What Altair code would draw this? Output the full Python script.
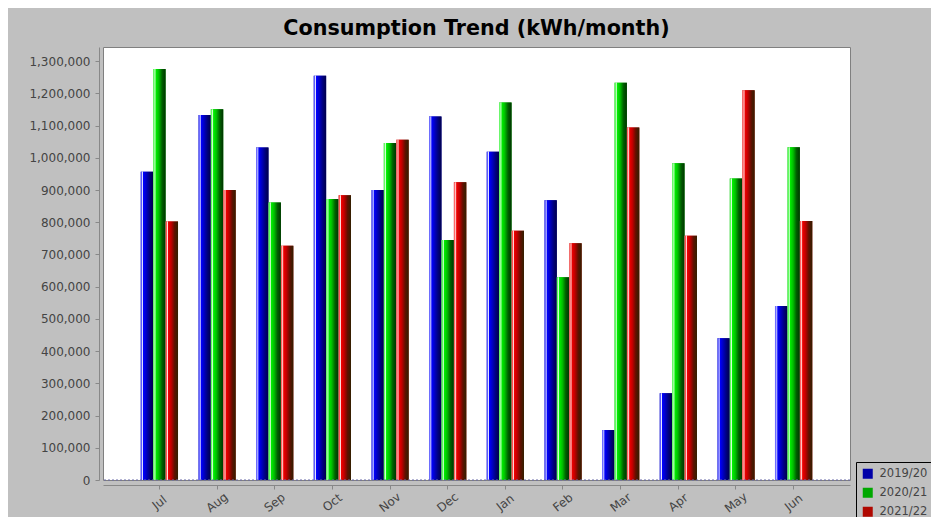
import altair as alt
import pandas as pd

months = ["Jul", "Aug", "Sep", "Oct", "Nov", "Dec", "Jan", "Feb", "Mar", "Apr", "May", "Jun"]
series = ["2019/20", "2020/21", "2021/22"]
v_1920 = [957000, 1133000, 1032000, 1255000, 900000, 1128000, 1019000, 868000, 155000, 269000, 440000, 540000]
v_2021 = [1276000, 1151000, 861000, 872000, 1046000, 745000, 1172000, 629000, 1233000, 983000, 936000, 1033000]
v_2122 = [802000, 900000, 727000, 884000, 1056000, 924000, 774000, 735000, 1094000, 758000, 1210000, 804000]
y_ticks = [0, 100000, 200000, 300000, 400000, 500000, 600000, 700000, 800000, 900000,
           1000000, 1100000, 1200000, 1300000]
legend_colors = ["#0000a8", "#00a800", "#b00800"]

rows = []
for s, vals in zip(series, [v_1920, v_2021, v_2122]):
    for m, v in zip(months, vals):
        rows.append({"month": m, "series": s, "value": v})
df = pd.DataFrame(rows)

FONT = "DejaVu Sans"


def grad(cols):
    offs = [0.0, 0.08, 0.15, 0.22, 0.45, 0.72, 1.0]
    return alt.Gradient(
        gradient="linear", x1=0, y1=0, x2=1, y2=0,
        stops=[alt.GradientStop(offset=o, color=c) for o, c in zip(offs, cols)],
    )


grads = [
    grad(["#8c8cff", "#5050ff", "#ececff", "#0000ff", "#0000c4", "#000080", "#00004a"]),
    grad(["#8cff8c", "#50ff50", "#ecffec", "#00f000", "#00c000", "#006000", "#003400"]),
    grad(["#ff8c8c", "#ff5050", "#ffecec", "#f00000", "#c00000", "#601000", "#302000"]),
]

x_enc = alt.X(
    "month:N", sort=months,
    scale=alt.Scale(domain=months, paddingInner=0.353, paddingOuter=0.654),
    axis=alt.Axis(title=None, labelAngle=322, labelAlign="center", labelBaseline="middle",
                  labelPadding=13, tickSize=4, offset=5, domainColor="#888888",
                  tickColor="#888888", labelFont=FONT, labelFontSize=12, labelColor="#444444",
                  grid=False, labelOverlap=False),
)
xo_enc = alt.XOffset("series:N", scale=alt.Scale(domain=series, paddingInner=0, paddingOuter=0))
y_enc = alt.Y(
    "value:Q",
    scale=alt.Scale(domain=[0, 1344000], nice=False, zero=True),
    axis=alt.Axis(title=None, values=y_ticks, format=",d", grid=False, offset=4, tickSize=4,
                  labelPadding=5, domainColor="#888888", tickColor="#888888", labelFont=FONT,
                  labelFontSize=12, labelColor="#444444", labelOverlap=False),
)

base = alt.Chart(df)

legend_layer = base.mark_bar().encode(
    x=x_enc, xOffset=xo_enc, y=y_enc,
    color=alt.Color("series:N", scale=alt.Scale(domain=series, range=legend_colors),
                    legend=alt.Legend(title=None, orient="none", legendX=753, legendY=415,
                                      symbolType="square", symbolSize=100, symbolStrokeWidth=0,
                                      labelFont=FONT, labelFontSize=11.5, labelColor="#444444",
                                      strokeColor="black", fillColor="#c0c0c0", padding=6,
                                      rowPadding=6, labelOffset=6)),
)

bar_layers = []
for s, g in zip(series, grads):
    bar_layers.append(
        base.transform_filter(alt.datum.series == s)
        .mark_bar(fill=g)
        .encode(x=x_enc, xOffset=xo_enc, y=y_enc)
    )

zero_rule = alt.Chart(pd.DataFrame({"value": [0]})).mark_rule(
    color="#6a6aa8", strokeDash=[2, 2], strokeWidth=1
).encode(y=y_enc)

chart = alt.layer(legend_layer, *bar_layers, zero_rule).properties(
    width=747,
    height=433,
    title=alt.TitleParams("Consumption Trend (kWh/month)", font=FONT, fontSize=20.7,
                          fontWeight="bold", color="#000000", offset=7),
    padding={"left": 95, "top": 39, "right": 81, "bottom": 37},
    autosize=alt.AutoSizeParams(type="none"),
    background="#c0c0c0",
).configure_view(stroke="#808080", strokeWidth=1, fill="white")

chart.save("out.html", embed_options={"renderer": "svg", "actions": False})
